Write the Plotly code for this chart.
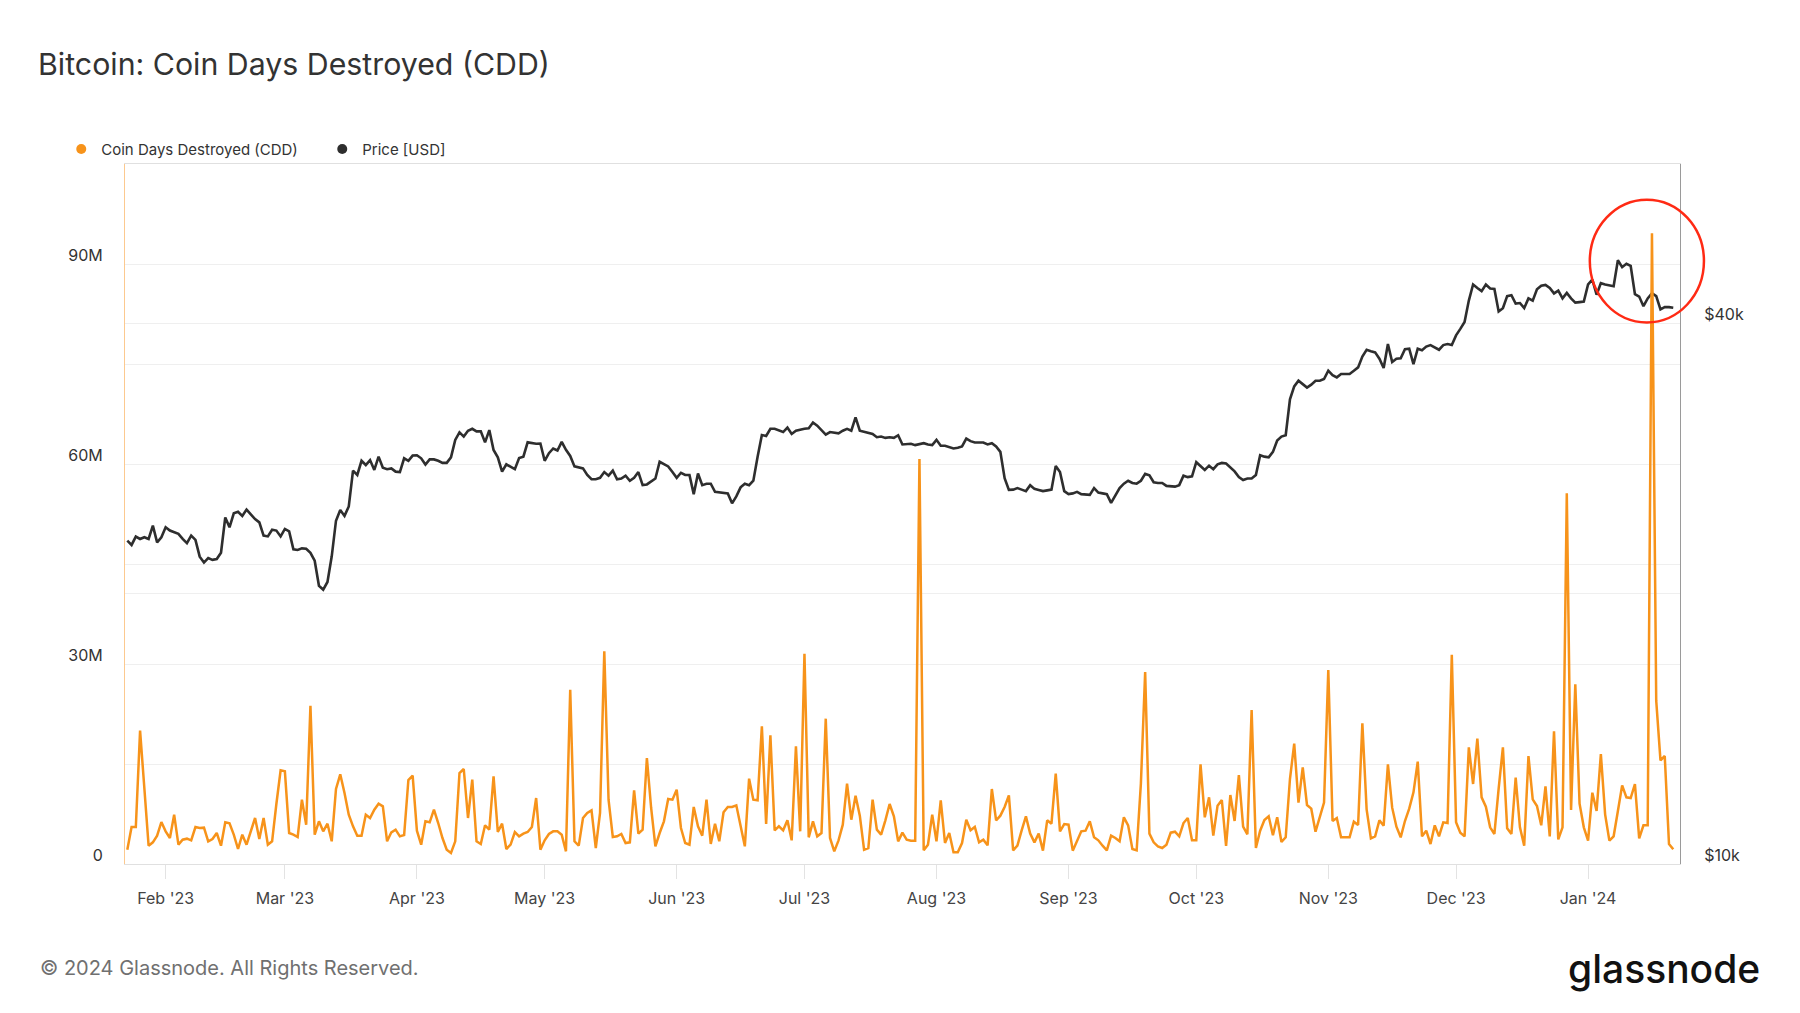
import pandas as pd
import plotly.graph_objects as go

# daily series, 2023-01-23 .. 2024-01-21
dates = pd.date_range("2023-01-23", periods=364, freq="D")

# Coin Days Destroyed, millions
cdd_m = [
    2.15, 5.55, 5.55, 20.0, 11.4, 2.75, 3.25, 4.25, 6.3, 4.9,
    3.9, 7.4, 2.9, 3.65, 3.8, 3.55, 5.55, 5.4, 5.45, 3.4,
    3.75, 4.65, 2.75, 6.25, 6.1, 4.4, 2.25, 4.4, 2.9, 5.05,
    6.9, 3.75, 6.9, 2.9, 3.4, 9.0, 14.05, 13.9, 4.65, 4.4,
    4.05, 9.65, 5.9, 23.75, 4.4, 6.4, 4.9, 6.05, 3.4, 11.25,
    13.45, 10.65, 7.4, 5.65, 4.25, 4.25, 7.4, 6.9, 8.15, 9.05,
    8.65, 3.4, 4.75, 5.15, 4.15, 4.35, 12.6, 13.25, 5.0, 2.9,
    6.4, 6.25, 8.15, 6.15, 3.9, 2.15, 1.65, 3.4, 13.65, 14.25,
    6.9, 12.65, 3.4, 3.0, 5.8, 5.15, 13.15, 4.8, 6.05, 2.25,
    2.9, 4.8, 4.15, 4.55, 4.8, 5.55, 9.9, 2.15, 3.55, 4.5,
    4.9, 4.9, 4.4, 1.9, 26.15, 3.4, 2.75, 6.9, 7.65, 8.05,
    2.4, 7.65, 31.9, 9.65, 4.05, 4.15, 4.5, 3.15, 3.25, 11.05,
    4.55, 5.15, 15.9, 8.4, 2.65, 4.65, 6.4, 9.75, 9.65, 11.15,
    5.4, 3.15, 2.9, 8.55, 5.65, 4.25, 9.65, 3.0, 6.05, 3.4,
    7.75, 8.55, 8.55, 8.8, 5.65, 2.65, 12.8, 9.65, 9.55, 20.65,
    6.0, 19.3, 5.05, 5.65, 5.05, 6.55, 3.55, 17.65, 4.9, 31.55,
    4.0, 6.4, 4.15, 4.65, 21.8, 3.9, 1.9, 3.55, 5.9, 12.05,
    6.65, 10.25, 7.25, 2.15, 2.4, 9.65, 5.15, 4.4, 6.55, 9.0,
    7.15, 3.4, 4.7, 3.65, 3.5, 3.5, 60.75, 2.05, 2.9, 7.4,
    3.4, 9.55, 3.15, 4.65, 1.75, 1.75, 3.15, 6.65, 5.05, 5.55,
    3.25, 3.65, 2.8, 11.25, 6.55, 7.25, 8.55, 10.3, 2.05, 2.75,
    5.05, 7.15, 4.55, 3.25, 4.55, 2.0, 6.55, 6.05, 13.55, 4.9,
    6.0, 5.9, 2.0, 3.55, 4.9, 5.0, 6.4, 4.0, 3.55, 2.75,
    2.05, 4.25, 3.9, 3.4, 7.0, 5.8, 2.25, 2.05, 12.1, 28.8,
    4.55, 3.25, 2.65, 2.4, 2.9, 4.7, 4.85, 4.15, 6.15, 6.9,
    3.55, 3.55, 14.95, 7.0, 10.0, 4.25, 8.75, 9.6, 2.7, 10.35,
    6.45, 13.35, 5.6, 4.45, 23.1, 2.4, 5.0, 6.6, 7.15, 4.3,
    7.0, 3.3, 4.0, 12.75, 18.05, 9.2, 14.5, 8.85, 8.3, 4.85,
    7.0, 9.2, 29.1, 6.45, 6.9, 4.0, 4.0, 4.0, 6.35, 5.85,
    21.1, 8.2, 3.85, 4.15, 6.55, 5.75, 14.95, 8.45, 5.6, 4.0,
    6.45, 8.3, 10.75, 15.35, 4.15, 5.0, 3.0, 5.8, 4.15, 6.25,
    6.15, 31.4, 6.25, 4.7, 4.15, 17.5, 12.0, 18.8, 10.0, 8.6,
    5.5, 4.5, 11.3, 17.5, 5.35, 4.5, 12.95, 5.5, 2.75, 16.2,
    9.7, 8.7, 5.8, 11.65, 4.15, 19.9, 3.7, 5.5, 55.6, 8.1,
    26.95, 9.05, 5.5, 3.5, 10.7, 7.95, 16.5, 7.45, 3.5, 4.15,
    7.95, 11.8, 10.0, 9.9, 12.0, 3.85, 5.8, 5.8, 94.6, 24.5,
    15.55, 16.2, 3.0, 2.2,
]

# BTC price, thousands of USD
price_k = [
    22.9, 22.65, 23.14, 23.0, 23.1, 23.0, 23.8, 22.8, 23.1, 23.7,
    23.5, 23.4, 23.3, 23.0, 22.75, 23.2, 22.95, 21.98, 21.65, 21.9,
    21.8, 21.85, 22.2, 24.3, 23.7, 24.56, 24.66, 24.4, 24.8, 24.5,
    24.2, 24.0, 23.2, 23.15, 23.55, 23.5, 23.15, 23.6, 23.45, 22.4,
    22.36, 22.45, 22.43, 22.2, 21.75, 20.4, 20.2, 20.6, 22.0, 24.1,
    24.77, 24.4, 25.0, 27.4, 27.1, 28.1, 27.8, 28.15, 27.45, 28.4,
    27.6, 27.5, 27.56, 27.33, 27.3, 28.28, 28.1, 28.48, 28.5, 28.28,
    27.83, 28.2, 28.2, 28.1, 27.95, 27.95, 28.35, 29.64, 30.23, 29.9,
    30.35, 30.5, 30.3, 30.3, 29.46, 30.4, 28.89, 28.35, 27.33, 27.85,
    27.65, 27.5, 28.3, 28.4, 29.46, 29.4, 29.35, 29.37, 28.1, 28.65,
    29.0, 28.85, 29.5, 28.9, 28.45, 27.7, 27.65, 27.56, 27.1, 26.8,
    26.8, 26.9, 27.3, 27.05, 27.4, 26.8, 26.85, 27.05, 26.7, 26.9,
    27.3, 26.4, 26.45, 26.65, 26.85, 28.03, 27.85, 27.7, 27.3, 26.9,
    27.25, 27.1, 27.1, 25.8, 27.2, 26.4, 26.5, 26.5, 25.95, 25.9,
    25.9, 25.85, 25.2, 25.65, 26.25, 26.5, 26.4, 26.7, 28.4, 30.02,
    29.95, 30.5, 30.5, 30.4, 30.25, 30.6, 30.1, 30.35, 30.45, 30.5,
    30.55, 31.0, 30.75, 30.4, 30.05, 30.25, 30.2, 30.15, 30.35, 30.5,
    30.35, 31.4, 30.35, 30.25, 30.2, 30.1, 29.85, 29.9, 29.8, 29.85,
    29.8, 30.0, 29.3, 29.3, 29.35, 29.25, 29.35, 29.4, 29.3, 29.25,
    29.65, 29.2, 29.2, 29.1, 29.0, 29.05, 29.15, 29.75, 29.55, 29.45,
    29.45, 29.45, 29.3, 29.4, 29.15, 28.75, 26.87, 26.08, 26.1, 26.2,
    26.1, 26.0, 26.4, 26.15, 26.08, 26.0, 26.05, 26.1, 27.73, 27.3,
    26.0, 25.8, 25.85, 25.95, 25.8, 25.75, 25.75, 26.2, 25.9, 25.85,
    25.8, 25.23, 25.75, 26.2, 26.5, 26.7, 26.55, 26.5, 26.7, 27.17,
    27.07, 26.6, 26.55, 26.55, 26.35, 26.3, 26.3, 26.4, 27.05, 26.95,
    27.0, 28.0, 27.7, 27.45, 27.75, 27.5, 27.85, 27.95, 27.9, 27.6,
    27.35, 26.95, 26.75, 26.85, 26.85, 27.1, 28.5, 28.4, 28.35, 28.75,
    29.6, 29.9, 30.0, 32.9, 34.0, 34.5, 34.2, 33.9, 34.15, 34.5,
    34.5, 34.65, 35.4, 35.0, 34.8, 35.1, 35.1, 35.1, 35.4, 35.7,
    36.7, 37.35, 37.2, 37.1, 36.5, 35.65, 37.9, 36.2, 36.5, 36.55,
    37.4, 37.45, 36.0, 37.45, 37.3, 37.65, 37.8, 37.6, 37.35, 37.8,
    37.9, 37.8, 38.75, 39.4, 40.1, 42.36, 44.15, 43.75, 43.4, 44.15,
    43.7, 43.65, 41.2, 41.55, 42.85, 42.95, 42.05, 42.1, 41.55, 42.6,
    42.35, 43.6, 44.0, 44.1, 43.75, 43.15, 43.45, 42.6, 43.2, 42.6,
    42.15, 42.2, 42.25, 44.15, 44.7, 43.0, 44.3, 44.15, 44.05, 43.95,
    46.97, 46.15, 46.56, 46.3, 43.06, 42.8, 41.76, 42.6, 43.17, 42.85,
    41.43, 41.66, 41.66, 41.6,
]

cdd_ticks = [0, 30, 60, 90]
cdd_labels = ["0", "30M", "60M", "90M"]
price_ticks = [10000, 20000, 40000]
price_labels = ["$10k", "", "$40k"]

ORANGE = "#f7931a"
DARK = "#2e2e2e"
GRID = "#efefef"
FONT = "Inter"

price_usd = [p * 1000 for p in price_k]

fig = go.Figure()

# price first so the CDD line sits on top
fig.add_trace(go.Scatter(x=dates, y=price_usd, mode="lines", yaxis="y",
                         line=dict(color=DARK, width=2.6), showlegend=False))
fig.add_trace(go.Scatter(x=dates, y=cdd_m, mode="lines", yaxis="y2",
                         line=dict(color=ORANGE, width=2.5), showlegend=False))

# legend entries drawn as dots
fig.add_trace(go.Scatter(x=[None], y=[None], mode="markers", name="Coin Days Destroyed (CDD)",
                         marker=dict(color=ORANGE, size=10)))
fig.add_trace(go.Scatter(x=[None], y=[None], mode="markers", name="Price [USD]",
                         marker=dict(color=DARK, size=10)))

# page body has an 8px margin, so everything is pulled up/left by 8px
fig.update_layout(
    width=1800, height=1013,
    margin=dict(l=117, r=128, t=156, b=157),
    paper_bgcolor="white", plot_bgcolor="white",
    font=dict(family=FONT, color="#333", size=16),
    title=dict(text="Bitcoin: Coin Days Destroyed (CDD)", x=0.0167, xanchor="left",
               y=0.9447, yanchor="middle", font=dict(size=30.3, color="#333", family=FONT)),
    legend=dict(orientation="h", x=-0.041, xanchor="left", y=1.021, yanchor="middle",
                font=dict(size=15, color="#333"), itemwidth=30, entrywidth=216,
                bgcolor="rgba(0,0,0,0)"),
    xaxis=dict(type="date", range=["2023-01-22 11:00", "2024-01-22 14:00"],
               tickformat="%b '%y", dtick="M1", tick0="2023-02-01",
               ticks="outside", ticklen=14, tickcolor="#e3e3e3", showgrid=False,
               showline=True, linecolor="#e0e0e0", linewidth=1, mirror=True,
               ticklabelstandoff=6,
               tickfont=dict(size=16, color="#444"), zeroline=False),
    yaxis=dict(type="log", range=[4, 4.779], side="right",
               tickvals=price_ticks, ticktext=price_labels,
               showgrid=True, gridcolor=GRID, zeroline=False,
               showline=True, linecolor="#9a9a9a", linewidth=1,
               ticks="", ticklabelstandoff=20, ticklabelshift=-9,
               tickfont=dict(size=16, color="#333")),
    yaxis2=dict(range=[0, 105], overlaying="y", side="left",
                tickvals=cdd_ticks, ticktext=cdd_labels,
                showgrid=True, gridcolor=GRID,
                minor=dict(dtick=15, showgrid=True, gridcolor=GRID),
                zeroline=False, showline=True, linecolor="#fcc98f", linewidth=1,
                ticks="", ticklabelstandoff=18, ticklabelshift=-9,
                tickfont=dict(size=16, color="#333")),
)

# highlight circle around the January spike
fig.add_shape(type="circle", xref="paper", yref="paper",
              x0=0.942, x1=1.0154, y0=0.7736, y1=0.949,
              line=dict(color="#ff2a14", width=2.5), layer="above")

fig.add_annotation(text="© 2024 Glassnode. All Rights Reserved.", xref="paper", yref="paper",
                   x=-0.056, y=-0.1486, xanchor="left", yanchor="middle", showarrow=False,
                   font=dict(size=20, color="#707070", family=FONT))
fig.add_annotation(text="glassnode", xref="paper", yref="paper",
                   x=1.0527, y=-0.1486, xanchor="right", yanchor="middle", showarrow=False,
                   font=dict(size=39, color="#111", family=FONT, weight=500))

fig.write_html("out.html")
